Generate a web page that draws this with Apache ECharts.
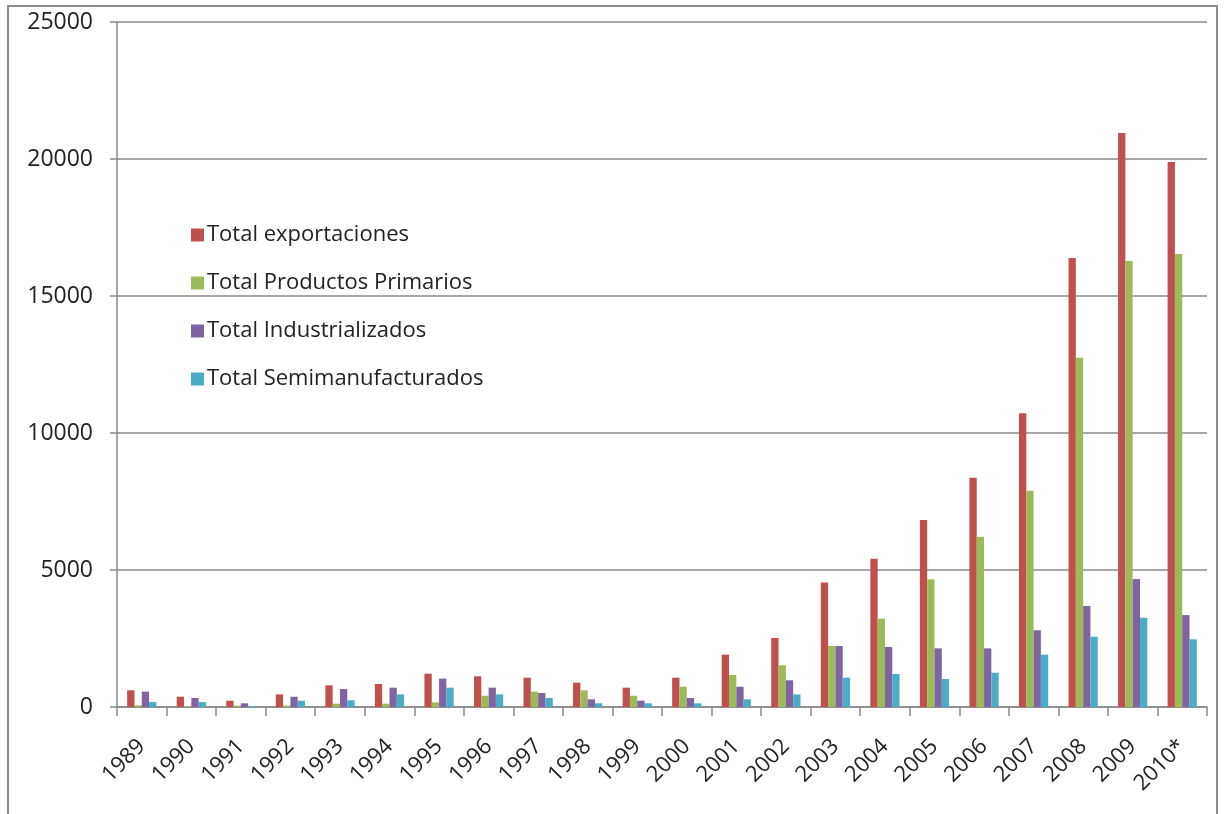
<!DOCTYPE html>
<html>
<head>
<meta charset="utf-8">
<script src="https://cdn.jsdelivr.net/npm/echarts@6/dist/echarts.min.js"></script>
<style>
  html, body { margin: 0; padding: 0; background: #fff; }
  #chart { width: 1224px; height: 814px; }
</style>
</head>
<body>
<div id="chart"></div>
<script>
// Exportaciones por año (valores)
const years = ['1989','1990','1991','1992','1993','1994','1995','1996','1997','1998','1999',
               '2000','2001','2002','2003','2004','2005','2006','2007','2008','2009','2010*'];
const totalExportaciones = [610, 375, 230, 460, 790, 840, 1215, 1120, 1070, 890, 705,
                            1070, 1910, 2520, 4540, 5410, 6825, 8370, 10720, 16390, 20950, 19890];
const productosPrimarios = [60, 30, 50, 50, 120, 120, 170, 410, 560, 610, 410,
                            740, 1170, 1525, 2225, 3225, 4660, 6215, 7895, 12750, 16280, 16530];
const industrializados = [560, 330, 135, 375, 655, 705, 1035, 705, 510, 280, 230,
                          330, 740, 975, 2225, 2190, 2140, 2140, 2800, 3685, 4670, 3355];
const semimanufacturados = [180, 180, 30, 230, 245, 460, 705, 460, 330, 135, 135,
                            135, 280, 460, 1070, 1205, 1020, 1250, 1910, 2565, 3260, 2470];
const yTicks = { min: 0, max: 25000, interval: 5000 };

const seriesNames = ['Total exportaciones', 'Total Productos Primarios',
                     'Total Industrializados', 'Total Semimanufacturados'];
const seriesData = [totalExportaciones, productosPrimarios, industrializados, semimanufacturados];
const colors = ['#C0504D', '#9BBB59', '#8064A2', '#4BACC6'];

const chart = echarts.init(document.getElementById('chart'), null, { renderer: 'canvas' });
const font = '"Open Sans", sans-serif';
const axisGray = '#8a8a8a';

chart.setOption({
  animation: false,
  backgroundColor: '#ffffff',
  color: colors,
  textStyle: { fontFamily: font },
  graphic: [{
    type: 'rect',
    shape: { x: 8, y: 6, width: 1209, height: 820 },
    style: { fill: 'none', stroke: '#8c8c8c', lineWidth: 2 },
    silent: true,
    z: 100
  }],
  legend: {
    orient: 'vertical',
    left: 186,
    top: 219,
    itemWidth: 13,
    itemHeight: 13,
    itemGap: 26,
    icon: 'rect',
    textStyle: { fontSize: 22, color: '#222', fontFamily: font, padding: [0, 0, 0, -2] },
    data: seriesNames
  },
  grid: { left: 117, right: 17, top: 22, bottom: 107, containLabel: false },
  xAxis: {
    type: 'category',
    data: years,
    axisLine: { lineStyle: { color: axisGray, width: 1.5 } },
    axisTick: { show: true, length: 9, alignWithLabel: false, lineStyle: { color: axisGray, width: 1.5 } },
    axisLabel: { rotate: 45, fontSize: 22, color: '#222', margin: 36, interval: 0, fontFamily: font }
  },
  yAxis: {
    type: 'value',
    min: yTicks.min,
    max: yTicks.max,
    interval: yTicks.interval,
    axisLine: { show: true, lineStyle: { color: axisGray, width: 1.5 } },
    axisTick: { show: true, length: 7, lineStyle: { color: axisGray, width: 1.5 } },
    axisLabel: { fontSize: 23, color: '#222', margin: 24, fontFamily: font,
                 formatter: v => String(v) },
    splitLine: { lineStyle: { color: axisGray, width: 1.5 } }
  },
  series: seriesNames.map((name, i) => ({
    name: name,
    type: 'bar',
    data: seriesData[i],
    barGap: '0%',
    barCategoryGap: '41%',
    itemStyle: { color: colors[i] }
  }))
});
</script>
</body>
</html>
